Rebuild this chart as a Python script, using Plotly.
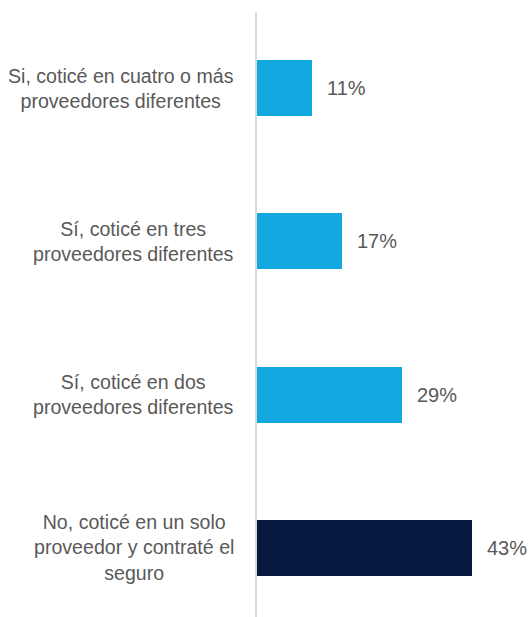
import plotly.graph_objects as go

# Survey answers, top to bottom
categories = [
    "Si, cotic\u00e9 en cuatro o m\u00e1s<br>proveedores diferentes",
    "S\u00ed, cotic\u00e9 en tres<br>proveedores diferentes",
    "S\u00ed, cotic\u00e9 en dos<br>proveedores diferentes",
    "No, cotic\u00e9 en un solo<br>proveedor y contrat\u00e9 el<br>seguro",
]
values = [11, 17, 29, 43]
bar_colors = ["#13A9E0", "#13A9E0", "#13A9E0", "#061A40"]

TEXT_COLOR = "#595959"
FONT = "Liberation Sans, Arial, sans-serif"

ids = [f"c{i}" for i in range(len(categories))]

fig = go.Figure(
    go.Bar(
        x=values,
        y=ids,
        orientation="h",
        marker=dict(color=bar_colors, line=dict(width=0)),
        width=0.365,
        hoverinfo="skip",
    )
)

# Category labels: multi-line, centred lines, right-aligned block next to the axis
for cid, label in zip(ids, categories):
    fig.add_annotation(
        x=0, xref="paper", y=cid, yref="y",
        text=label, showarrow=False,
        xanchor="right", yanchor="middle", align="center",
        xshift=-21,
        font=dict(family=FONT, size=19.6, color=TEXT_COLOR),
    )

# Value labels to the right of each bar
for cid, v in zip(ids, values):
    fig.add_annotation(
        x=v, xref="x", y=cid, yref="y",
        text=f"{v}%", showarrow=False,
        xanchor="left", yanchor="middle",
        xshift=13,
        font=dict(family=FONT, size=20, color=TEXT_COLOR),
    )

fig.update_layout(
    width=530, height=617,
    margin=dict(l=257, r=0, t=12, b=0),
    paper_bgcolor="white", plot_bgcolor="white",
    showlegend=False,
    bargap=0,
    xaxis=dict(range=[0, 54.6], showgrid=False, zeroline=False,
               showticklabels=False, showline=False, ticks=""),
    yaxis=dict(type="category", categoryorder="array", categoryarray=ids,
               range=[3.451, -0.496], autorange=False,
               showgrid=False, zeroline=False, showticklabels=False,
               showline=True, linecolor="#D9D9D9", linewidth=2, ticks=""),
)

fig.write_html("out.html")
